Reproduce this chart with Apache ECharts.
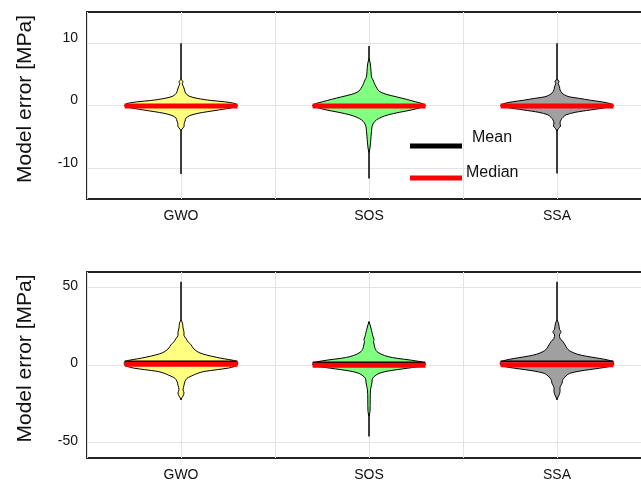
<!DOCTYPE html>
<html>
<head>
<meta charset="utf-8">
<script src="https://cdn.jsdelivr.net/npm/echarts@6/dist/echarts.min.js"></script>
<style>
  html, body { margin: 0; padding: 0; background: #ffffff; }
  #chart { width: 641px; height: 481px; }
</style>
</head>
<body>
<div id="chart"></div>
<script>
// Optimizers compared in both panels
const categories = ['GWO', 'SOS', 'SSA'];

// Tick labels of the two error axes [MPa]
const yTicksTop = [-10, 0, 10];
const yTicksBottom = [-50, 0, 50];

// Kernel density profiles of the model error: [error MPa, density]
const topGWO = [[4.2,0],[3.8,2],[3.5,1.2],[3.0,2.5],[2.5,3.5],[2.0,4.5],[1.5,8],[1.15,16],[0.8,30],[0.6,43],[0.3,54],[0,56],[-0.3,52],[-0.7,38],[-1.0,26],[-1.25,17],[-1.6,9],[-2.0,5],[-2.5,4],[-3.0,3],[-3.3,3.2],[-3.6,2],[-4.0,0]];
const topSOS = [[7.5,0],[6.8,1.2],[5.5,2],[4.6,2.5],[4.1,4],[3.5,5.5],[3.0,7],[2.5,9],[2.2,11],[1.8,17],[1.4,27],[1.0,37],[0.6,46],[0.3,53],[0,56],[-0.3,52],[-0.72,42],[-1.1,30],[-1.5,19],[-1.9,12],[-2.3,7.5],[-2.8,4.5],[-3.4,3],[-4.2,2.5],[-5,2],[-6,1.5],[-7,0.8],[-7.5,0]];
const topSSA = [[4.2,0],[3.9,2],[3.5,1.3],[3.0,2.5],[2.5,3],[2.0,5],[1.7,7.5],[1.4,12],[1.15,22],[0.85,33],[0.6,44],[0.3,53],[0,56],[-0.3,50],[-0.72,33],[-1.1,18],[-1.5,9],[-1.9,6],[-2.3,4],[-2.8,3],[-3.3,3.5],[-3.7,1.5],[-4.1,0]];

const botGWO = [[29,0],[27,1.5],[24,2],[21,3],[19,3],[17,5],[15,7],[13,10],[11,12],[9.7,14],[8,18],[6.5,25],[5,35],[4,43],[3,52],[2,56],[0,56],[-1,53],[-2,47],[-3,36],[-4.3,22],[-5.5,16],[-6.5,12.5],[-7.5,9],[-8.6,6],[-10.5,4],[-13,3],[-16,2],[-18,3],[-20,2],[-22,0]];
const botSOS = [[28,0],[26,1],[23.7,2],[21,3],[18.3,4],[16.5,5],[15,4.5],[13.5,5],[11.8,5.5],[10,6.5],[8.6,8],[7,12],[5.4,19],[4.3,28],[3.2,41],[2,52],[1,56],[-0.5,55],[-1.2,48],[-2.1,38],[-3,28],[-4,18],[-5.4,10],[-7,6],[-8.6,3.5],[-11,3],[-13,2.5],[-16,1.5],[-22,1.2],[-30,1],[-33,0]];
const botSSA = [[29,0],[27,1.5],[23,2.5],[21.5,4],[19.5,2.5],[17.2,3],[15,6],[13,8],[11.8,9],[10,11],[8.6,14],[7,20],[5.8,28],[4.7,38],[3.7,47],[2.8,53],[2,56],[0,56],[-1,52],[-2.1,42],[-3,32],[-4,22],[-5.4,12.5],[-7,9],[-8.6,6.7],[-10,5.5],[-11.8,5],[-13,4],[-14.5,3],[-17.2,3],[-19.4,2],[-22,0]];

// Error extremes [min, max] per optimizer
const topRange = [[-11, 10], [-11.7, 9.55], [-10.9, 10]];
const botRange = [[-22.6, 53.7], [-46.2, 27.9], [-22.6, 53.7]];

// Mean and median error per optimizer
const topMean = [-0.05, -0.05, -0.05];
const topMedian = [-0.1, -0.1, -0.1];
const botMean = [2.4, 1.8, 2.4];
const botMedian = [0.45, -0.2, 0.2];

const fillColors = ['#ffff80', '#80ff80', '#a0a0a0'];
const HALF = 0.3;           // half width of a violin in category units
const GRID_COLOR = '#e3e3e3';
const FONT = 'Liberation Sans, Arial, sans-serif';

const chart = echarts.init(document.getElementById('chart'), null, { renderer: 'canvas' });

function violinSeries(axisIdx, profiles, ranges, means, medians) {
  return {
    type: 'custom',
    xAxisIndex: axisIdx,
    yAxisIndex: axisIdx,
    data: categories.map((c, i) => [i + 1, 0]),
    encode: { x: 0, y: 1 },
    silent: true,
    renderItem(params, api) {
      const i = params.dataIndex;
      const cx = api.value(0);
      const prof = profiles[i];
      const maxD = Math.max.apply(null, prof.map(p => p[1]));
      const right = prof.map(p => api.coord([cx + HALF * p[1] / maxD, p[0]]));
      const left = prof.slice().reverse().map(p => api.coord([cx - HALF * p[1] / maxD, p[0]]));
      const lo = api.coord([cx, ranges[i][0]]);
      const hi = api.coord([cx, ranges[i][1]]);
      const mL = api.coord([cx - HALF, means[i]]);
      const mR = api.coord([cx + HALF, means[i]]);
      const dL = api.coord([cx - HALF, medians[i]]);
      const dR = api.coord([cx + HALF, medians[i]]);
      return {
        type: 'group',
        children: [
          { type: 'line', shape: { x1: lo[0], y1: lo[1], x2: hi[0], y2: hi[1] },
            style: { stroke: '#000', lineWidth: 1.5 } },
          { type: 'polygon', shape: { points: right.concat(left), smooth: 0.3 },
            style: { fill: fillColors[i], stroke: '#000', lineWidth: 1 } },
          { type: 'line', shape: { x1: mL[0], y1: mL[1], x2: mR[0], y2: mR[1] },
            style: { stroke: '#000', lineWidth: 1.6 } },
          { type: 'line', shape: { x1: dL[0], y1: dL[1], x2: dR[0], y2: dR[1] },
            style: { stroke: '#ff0000', lineWidth: 5 } }
        ]
      };
    }
  };
}

function xAxis(gridIndex) {
  return {
    type: 'value', gridIndex, min: 0.5, max: 3.5, interval: 0.5,
    axisLine: { show: false }, axisTick: { show: false },
    axisLabel: {
      margin: 10, fontSize: 14, color: '#111', fontFamily: FONT,
      formatter: v => Number.isInteger(v) ? categories[v - 1] : ''
    },
    splitLine: { show: true, lineStyle: { color: GRID_COLOR, width: 1 } }
  };
}

function yAxis(gridIndex, min, max, interval, ticks, colorCycle, lineH) {
  return {
    type: 'value', gridIndex, min, max, interval,
    name: 'Model error [MPa]', nameLocation: 'middle', nameGap: 51,
    nameTextStyle: { fontSize: 21, color: '#111', fontFamily: FONT, padding: [0, 0, 0, 13] },
    axisLine: { show: false }, axisTick: { show: false },
    axisLabel: {
      margin: 9, fontSize: 14, color: '#111', fontFamily: FONT,
      verticalAlign: 'bottom', lineHeight: lineH,
      formatter: v => ticks.indexOf(v) >= 0 ? String(v) : ''
    },
    splitLine: { show: true, lineStyle: { color: colorCycle, width: 1 } }
  };
}

chart.setOption({
  animation: false,
  backgroundColor: '#ffffff',
  grid: [
    { left: 87, width: 564, top: 12, height: 187, outerBoundsMode: 'none', containLabel: false,
      show: true, borderColor: '#222', borderWidth: 2, backgroundColor: 'transparent' },
    { left: 87, width: 564, top: 272, height: 186, outerBoundsMode: 'none', containLabel: false,
      show: true, borderColor: '#222', borderWidth: 2, backgroundColor: 'transparent' }
  ],
  xAxis: [xAxis(0), xAxis(1)],
  yAxis: [
    yAxis(0, -15, 15, 5, yTicksTop, ['rgba(0,0,0,0)', GRID_COLOR], 10),
    yAxis(1, -60, 60, 10, yTicksBottom, ['rgba(0,0,0,0)', GRID_COLOR, 'rgba(0,0,0,0)', 'rgba(0,0,0,0)', 'rgba(0,0,0,0)'], 3)
  ],
  series: [
    violinSeries(0, [topGWO, topSOS, topSSA], topRange, topMean, topMedian),
    violinSeries(1, [botGWO, botSOS, botSSA], botRange, botMean, botMedian)
  ],
  graphic: [
    { type: 'line', shape: { x1: 410, y1: 146, x2: 462, y2: 146 }, style: { stroke: '#000', lineWidth: 5 }, z: 10 },
    { type: 'line', shape: { x1: 410, y1: 178, x2: 462, y2: 178 }, style: { stroke: '#ff0000', lineWidth: 5 }, z: 10 },
    { type: 'text', x: 472, y: 138, style: { text: 'Mean', fill: '#111', font: '16px ' + FONT, textVerticalAlign: 'middle' }, z: 10 },
    { type: 'text', x: 466, y: 173, style: { text: 'Median', fill: '#111', font: '16px ' + FONT, textVerticalAlign: 'middle' }, z: 10 }
  ]
});
</script>
</body>
</html>
